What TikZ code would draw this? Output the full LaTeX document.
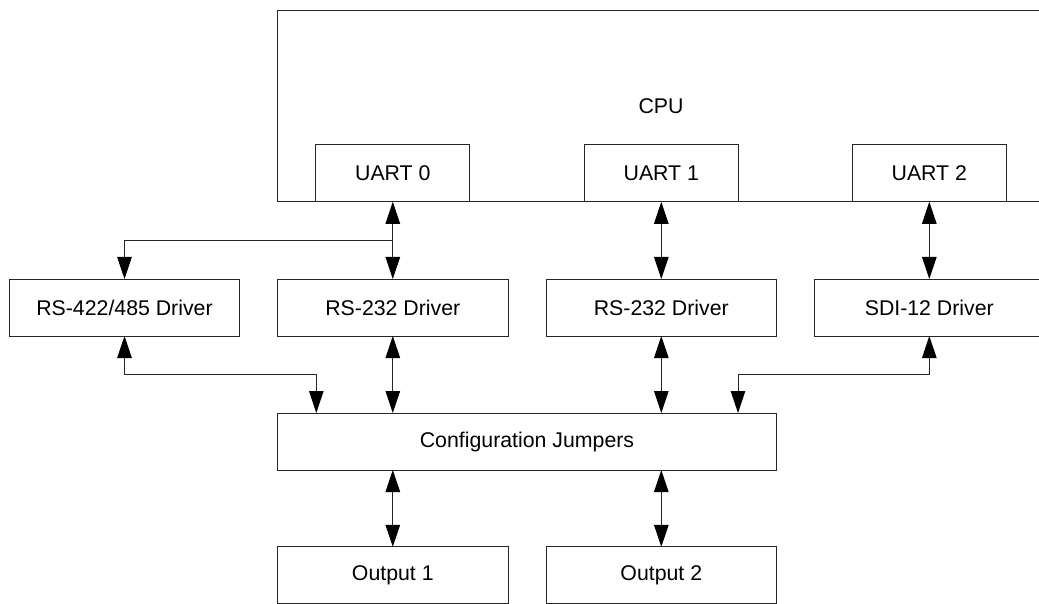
\documentclass[tikz,border=0pt]{standalone}
\usepackage{fontspec}
\setmainfont{Liberation Sans}
\usetikzlibrary{arrows.meta}
\tikzset{
  every node/.style={font=\fontsize{21.3}{25}\selectfont},
  blk/.style={draw=black!85, line width=1pt, fill=white, inner sep=0pt, outer sep=0pt, anchor=center, minimum height=57pt},
  wide/.style={blk, minimum width=230.5pt},
  uart/.style={blk, minimum width=154pt},
  conn/.style={line width=1pt, draw=black!85, {Triangle[length=22pt,width=14.5pt,black]}-{Triangle[length=22pt,width=14.5pt,black]}},
  oneway/.style={line width=1pt, draw=black!85, -{Triangle[length=22pt,width=14.5pt,black]}},
  plain/.style={draw=none, fill=none, inner sep=0pt}
}
\begin{document}
\begin{tikzpicture}[x=1pt,y=-1pt]
\useasboundingbox (0,0) rectangle (1039,604);
% CPU
\node[blk, minimum width=790pt, minimum height=191pt] (cpu) at (672.5,106.5) {};
\node[plain] (cputxt) at (661,106) {CPU};
% UARTs
\node[uart] (u0) at (392.8,173.3) {UART 0};
\node[uart] (u1) at (661.3,173.3) {UART 1};
\node[uart] (u2) at (929.3,173.3) {UART 2};
% Drivers
\node[wide] (d0) at (124.5,307.5) {RS-422/485 Driver};
\node[wide] (d1) at (392.8,307.5) {RS-232 Driver};
\node[wide] (d2) at (661.3,307.5) {RS-232 Driver};
\node[wide] (d3) at (929.3,307.5) {SDI-12 Driver};
% Jumpers
\node[blk, minimum width=498.8pt] (cfg) at (527,441.5) {Configuration Jumpers};
% Outputs
\node[wide] (o1) at (392.8,575.3) {Output 1};
\node[wide] (o2) at (661.3,575.3) {Output 2};
% Helper coordinates
\coordinate (j0) at (392.8,240.4);
\coordinate (ca) at (316.3,413);
\coordinate (cb) at (738,413);
\coordinate (la) at (124.5,374.4);
\coordinate (lb) at (929.3,374.4);
% Connectors
\draw[conn] (u0.south) -- (d1.north);
\draw[conn] (u1.south) -- (d2.north);
\draw[conn] (u2.south) -- (d3.north);
\draw[oneway] (j0) -| (d0.north);
\draw[conn] (d0.south) -- (la) -| (ca);
\draw[conn] (d3.south) -- (lb) -| (cb);
\draw[conn] (d1.south) -- (d1.south |- cfg.north);
\draw[conn] (d2.south) -- (d2.south |- cfg.north);
\draw[conn] (o1.north |- cfg.south) -- (o1.north);
\draw[conn] (o2.north |- cfg.south) -- (o2.north);
\end{tikzpicture}
\end{document}
